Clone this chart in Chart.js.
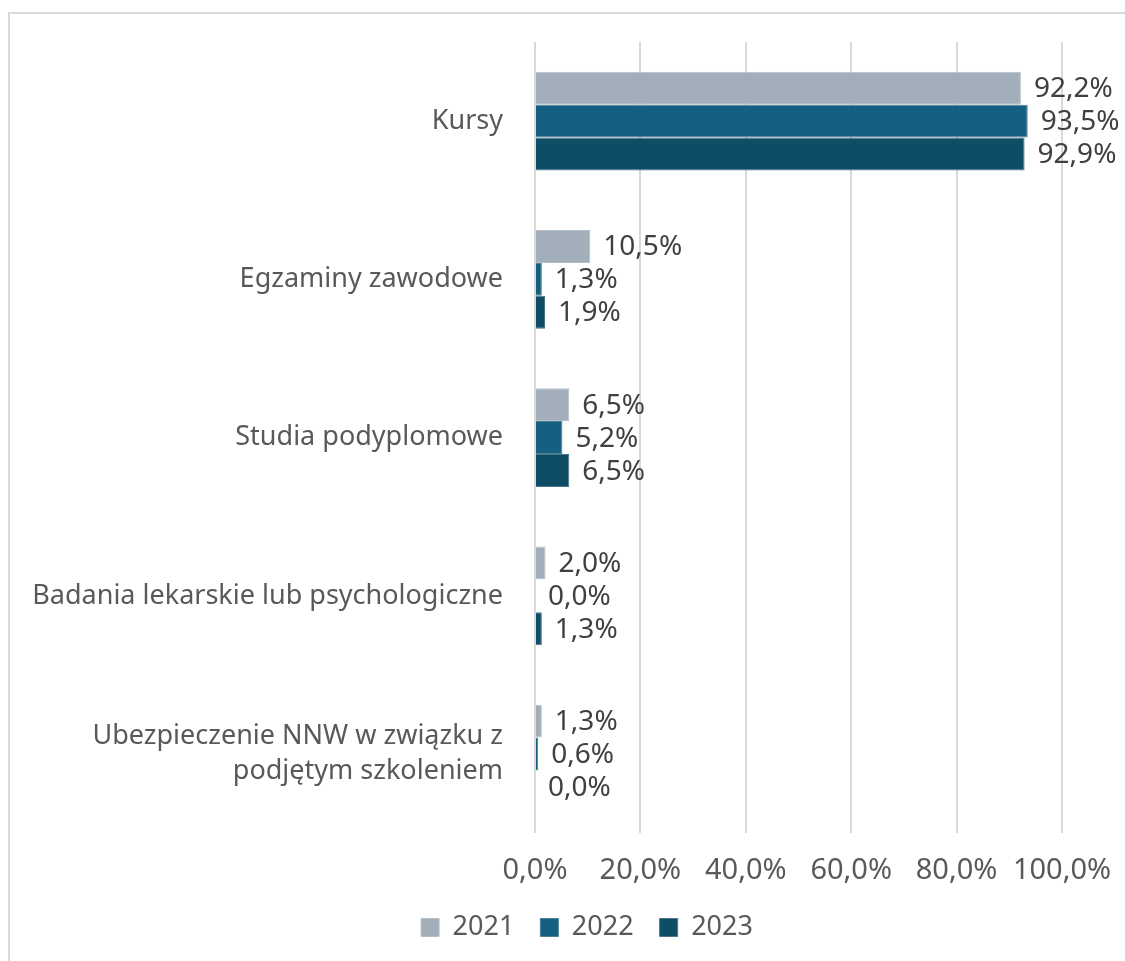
<!DOCTYPE html>
<html>
<head>
<meta charset="utf-8">
<script src="https://cdn.jsdelivr.net/npm/chart.js@4"></script>
<style>
  html, body { margin: 0; padding: 0; background: #fff; overflow: hidden; }
  #frame { position: absolute; left: 8px; top: 12px; width: 2000px; height: 2000px; border: 2px solid #D9D9D9; }
  #wrap { position: absolute; left: 0; top: 0; width: 1125px; height: 961px; }
</style>
</head>
<body>
<div id="frame"></div>
<div id="wrap"><canvas id="barChart" width="1125" height="961"></canvas></div>
<script>
var categories = [
  'Kursy',
  'Egzaminy zawodowe',
  'Studia podyplomowe',
  'Badania lekarskie lub psychologiczne',
  ['Ubezpieczenie NNW w związku z', 'podjętym szkoleniem']
];
var years = ['2021', '2022', '2023'];
var values2021 = [92.2, 10.5, 6.5, 2.0, 1.3];
var values2022 = [93.5, 1.3, 5.2, 0.0, 0.6];
var values2023 = [92.9, 1.9, 6.5, 1.3, 0.0];
var xTicks = [0, 20, 40, 60, 80, 100];

var fontName = '"Noto Sans", sans-serif';

function pct(v) {
  return v.toFixed(1).replace('.', ',') + '%';
}

// value labels to the right of each bar
var barLabels = {
  id: 'barLabels',
  afterDatasetsDraw: function(chart) {
    var ctx = chart.ctx;
    ctx.save();
    ctx.font = '28px ' + fontName;
    ctx.fillStyle = '#404040';
    ctx.textAlign = 'left';
    ctx.textBaseline = 'middle';
    chart.data.datasets.forEach(function(ds, i) {
      var meta = chart.getDatasetMeta(i);
      meta.data.forEach(function(bar, j) {
        ctx.fillText(pct(ds.data[j]), bar.x + 13, bar.y + 1);
      });
    });
    ctx.restore();
  }
};

// legend sits a bit right of the canvas centre in the original
var legendShift = {
  id: 'legendShift',
  afterLayout: function(chart) {
    chart.legend.left += 46;
    chart.legend.right += 46;
  }
};

var ctx = document.getElementById('barChart').getContext('2d');
var myChart = new Chart(ctx, {
  type: 'bar',
  data: {
    labels: categories,
    datasets: [
      { label: years[0], data: values2021, backgroundColor: '#A2AEB9', borderColor: '#B4BEC7', borderWidth: 1 },
      { label: years[1], data: values2022, backgroundColor: '#155F80', borderColor: '#4F7F96', borderWidth: 1 },
      { label: years[2], data: values2023, backgroundColor: '#0F4C66', borderColor: '#4B738A', borderWidth: 1 }
    ]
  },
  options: {
    indexAxis: 'y',
    responsive: false,
    animation: false,
    layout: { padding: { top: 42, left: 20, right: 63, bottom: 10 } },
    datasets: { bar: { categoryPercentage: 0.625, barPercentage: 1 } },
    plugins: {
      legend: {
        position: 'bottom',
        labels: {
          font: { family: fontName, size: 27 },
          color: '#595959',
          boxWidth: 18,
          boxHeight: 18,
          padding: 26
        }
      },
      tooltip: { enabled: false }
    },
    scales: {
      x: {
        min: 0,
        max: 100,
        afterBuildTicks: function(scale) {
          scale.ticks = xTicks.map(function(v) { return { value: v }; });
        },
        afterFit: function(scale) {
          scale.height = scale.height - 20;
          scale.paddingLeft = 0;
          scale.paddingRight = 0;
        },
        ticks: {
          font: { family: fontName, size: 29 },
          color: '#595959',
          padding: 20,
          callback: function(v) { return pct(v); }
        },
        grid: { color: '#D9D9D9', lineWidth: 2, drawTicks: false },
        border: { display: false }
      },
      y: {
        afterFit: function(scale) {
          scale.width = 515;
          scale.paddingTop = 0;
          scale.paddingBottom = 0;
        },
        ticks: {
          font: { family: fontName, size: 27, lineHeight: 1.3 },
          color: '#595959',
          padding: 24
        },
        grid: { display: false },
        border: { display: false }
      }
    }
  },
  plugins: [barLabels, legendShift]
});
</script>
</body>
</html>
